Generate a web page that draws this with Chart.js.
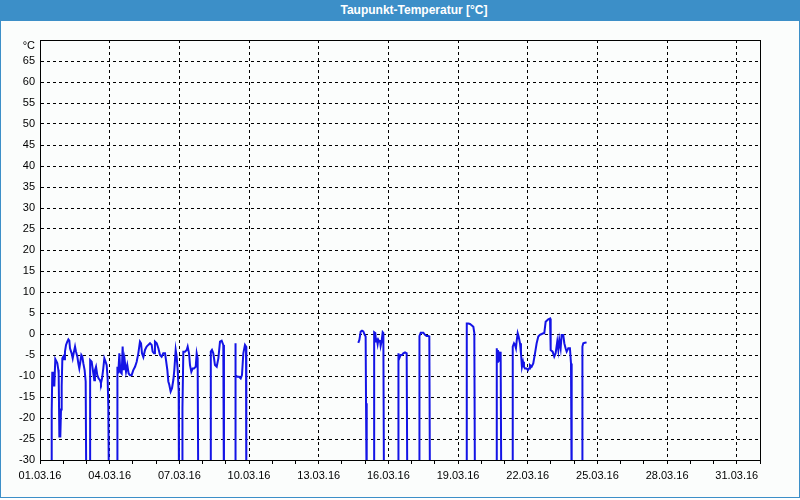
<!DOCTYPE html>
<html>
<head>
<meta charset="utf-8">
<script src="https://cdn.jsdelivr.net/npm/chart.js@4.4.1/dist/chart.umd.min.js"></script>
<style>
  html, body { margin: 0; padding: 0; background: #ffffff; }
  #frame { position: absolute; left: 0; top: 0; width: 798px; height: 497px; border: 1px solid #3c8fc8; border-top: none; background: #fbfdfc; }
  #c { position: absolute; left: 0; top: 0; }
  #title { position: absolute; left: 0; top: 0; width: 800px; height: 21px; background: #3c8fc8; color: #ffffff;
           font: bold 12px "Liberation Sans", Arial, sans-serif; line-height: 21px; text-align: center;
           padding-left: 28px; box-sizing: border-box; }
</style>
</head>
<body>
<div id="frame"></div>
<canvas id="c" width="800" height="500"></canvas>
<div id="title">Taupunkt-Temperatur [°C]</div>
<script>
// Hours since 01.03.16 00:00 (null value = no data)
const hours = [
  12.0, 12.1, 12.7, 13.4, 14.1, 14.8, 15.8, 16.9, 17.9, 18.9, 19.3, 20.0, 21.0, 21.7, 22.4, 23.1, 24.1, 24.8, 25.8, 26.9, 28.2, 29.3, 30.3, 31.0, 32.7, 33.8, 35.1, 36.2, 37.2, 38.6, 39.6, 40.6, 41.7, 42.7, 43.7, 44.8, 46.1, 47.2, 47.9,
  50,
  51.7, 51.8, 53.4, 55.1, 56.1, 56.8, 57.9, 59.2, 60.6, 62.0, 63.0, 64.1, 65.4, 66.5, 67.8, 68.9, 69.9, 70.6, 71.3,
  75,
  79.9, 80.0, 80.9, 82.0, 83.0, 84.4, 85.4, 86.4, 87.5, 88.9, 90.2, 91.6, 93.0, 94.7, 96.4, 98.2, 99.9, 101.6, 103.3, 104.4, 105.4, 106.8, 108.5, 110.2, 111.9, 113.7, 115.4, 116.4, 117.8, 118.8, 120.6, 122.3, 124.0, 125.7, 127.4, 129.2, 130.2, 131.6, 132.6, 133.6, 135.0, 136.4, 137.8, 138.8, 140.2, 141.2, 142.3, 143.3, 143.6,
  145,
  147.1, 147.2, 148.1, 149.8, 151.6, 152.6, 154.0, 155.0, 156.4, 157.8, 159.1, 160.9, 161.9, 162.9, 163.6,
  170,
  176.4, 176.5, 177.7, 179.1, 180.8, 182.6, 184.3, 186.0, 187.7, 189.4, 190.1,
  195,
  201.5, 201.6, 202.5, 203.9, 205.6, 207.4, 208.7, 210.1, 211.8, 212.9, 213.2,
  270,
  328.9, 330.0, 331.4, 332.7, 334.1, 335.5, 336.5, 336.9, 337.6,
  341,
  345.2, 345.3, 346.5, 347.2, 347.9, 348.9, 349.6, 350.5, 351.3, 352.0, 353.1, 354.1, 354.8, 355.5,
  362,
  370.3, 370.4, 371.3, 372.7, 374.1, 375.4, 377.2, 378.9, 379.6,
  385,
  392.0, 392.1, 393.4, 396.1, 397.8, 399.5, 401.3, 402.3, 403.0,
  420,
  440.9, 441.0, 442.6, 444.3, 446.0, 447.8, 448.8, 449.5,
  460,
  471.9, 472.0, 472.6, 473.2, 473.9, 474.6, 475.3, 476.0, 476.7,
  482,
  488.4, 488.5, 489.8, 490.8, 491.8, 492.5, 493.6, 494.6, 496.0, 497.0, 498.0, 499.1, 500.1, 501.1, 502.9, 504.2, 505.3, 506.3, 508.0, 509.7, 511.5, 513.2, 514.9, 516.6, 518.4, 520.1, 521.1, 522.5, 525.2, 527.0, 527.7, 529.7, 531.4, 532.8, 534.5, 535.6, 536.6, 538.0, 539.0, 540.7, 541.8, 543.1, 544.2, 545.9, 547.6, 548.7, 549.4,
  555,
  560.4, 560.5, 561.4, 563.1, 564.8
];
// Dew point temperature in °C
const dewpoint = [
  -40, -18.5, -9, -12.5, -9, -12.5, -6, -6.5, -7, -8.5, -9.5, -24.4, -24.4, -18, -12.5, -5.8, -5.4, -6, -4.2, -2.6, -1.8, -1.3, -1.6, -3.4, -4.6, -5.8, -4.2, -3, -4.2, -5.4, -7, -8.2, -6.6, -5, -5.4, -7, -8.6, -11.3, -40,
  null,
  -40, -6.2, -6.6, -9.4, -11, -8.6, -7.8, -9.8, -10.6, -11, -11.7, -10.6, -8.2, -5.8, -6.6, -7.4, -10.6, -17.3, -40,
  null,
  -40, -7.8, -9.4, -4.6, -9, -9.4, -3, -8.6, -6.2, -9, -7.4, -9.4, -9.8, -9.8, -8.6, -7.8, -6.6, -4.6, -1.8, -2.2, -4.6, -5.5, -3.8, -3, -2.6, -2.2, -2.6, -4.2, -4.6, -1.8, -2.2, -3.4, -5, -5.4, -4.6, -4.6, -6.2, -8.6, -11.3, -12.1, -13.7, -12.9, -10.9, -8.6, -3.8, -5.4, -8.6, -13.7, -40,
  null,
  -40, -17.7, -4.2, -4.2, -3.8, -3, -4.6, -7.4, -9, -8.2, -8.2, -7.8, -4.6, -5.8, -40,
  null,
  -40, -4.2, -3.8, -4.6, -7.4, -7.8, -5.8, -1.8, -1.6, -2.6, -40,
  null,
  -40, -2.2, -9.8, -10.2, -10.2, -10.6, -9.8, -4.6, -2.6, -3, -40,
  null,
  -2.1, -1.4, 0.6, 0.8, 0.6, -0.2, -0.6, -16.5, -40,
  null,
  -40, 0.4, 0.2, -1.8, -1.0, -2.4, -1.4, -1.8, -1.4, -2.8, -1.6, 0.4, 0.2, -40,
  null,
  -40, -4.6, -5.8, -5.0, -5.0, -4.6, -4.4, -4.6, -40,
  null,
  -40, -0.5, 0.3, 0.3, -0.2, -0.5, -0.5, -0.6, -40,
  null,
  -40, 2.5, 2.5, 2.4, 2.1, 1.7, 0.2, -40,
  null,
  -40, -3.4, -6.6, -3.8, -6.6, -4.2, -6.6, -4.2, -40,
  null,
  -40, -3.0, -2.2, -2.6, -3.4, -1.8, 0.2, -0.6, -2.2, -4.6, -7.8, -6.6, -7.8, -8.2, -8.2, -8.6, -8.2, -7.4, -7.8, -7.0, -4.6, -2.2, -0.6, -0.2, 0, 0.2, 0.2, 2.9, 3.5, 3.7, -3.8, -4.2, -5.4, -4.6, -1.8, -3.8, -1.4, -3.4, -0.24, -0.24, -2.2, -3.4, -4.2, -3.4, -3.4, -7.0, -40,
  null,
  -40, -3.0, -2.2, -2.1, -2.0
];
const xTickLabels = ['01.03.16', '04.03.16', '07.03.16', '10.03.16', '13.03.16', '16.03.16', '19.03.16', '22.03.16', '25.03.16', '28.03.16', '31.03.16'];
const yUnitLabel = '°C';

const points = hours.map((h, i) => ({ x: h, y: dewpoint[i] }));
const FONT = { family: 'Liberation Sans', size: 11 };

const framePlugin = {
  id: 'framePlugin',
  afterDraw(chart) {
    const { ctx, chartArea: a } = chart;
    ctx.save();
    ctx.strokeStyle = '#000000';
    ctx.lineWidth = 1;
    ctx.setLineDash([]);
    ctx.strokeRect(a.left + 0.5, a.top + 0.5, a.right - a.left, a.bottom - a.top);
    ctx.fillStyle = '#000000';
    ctx.font = '11px "Liberation Sans"';
    ctx.textAlign = 'right';
    ctx.textBaseline = 'middle';
    ctx.fillText(yUnitLabel, a.left - 5, a.top + 6);
    ctx.restore();
  }
};

new Chart(document.getElementById('c'), {
  type: 'line',
  data: {
    datasets: [{
      data: points,
      borderColor: '#1414e6',
      borderWidth: 2,
      pointRadius: 0,
      tension: 0,
      spanGaps: false,
      fill: false,
      clip: { left: 0, top: 0, right: 0, bottom: 0 }
    }]
  },
  options: {
    responsive: false,
    animation: false,
    devicePixelRatio: 1,
    layout: { padding: { left: 0, top: 40, right: 40, bottom: 0 } },
    plugins: { legend: { display: false }, tooltip: { enabled: false }, title: { display: false } },
    scales: {
      x: {
        type: 'linear',
        min: 0,
        max: 744,
        afterFit: s => { s.height = 40; },
        ticks: {
          stepSize: 24,
          autoSkip: false,
          maxRotation: 0,
          minRotation: 0,
          padding: 5,
          color: '#000000',
          font: FONT,
          callback: v => (v % 72 === 0 && v / 72 < xTickLabels.length) ? xTickLabels[v / 72] : ''
        },
        grid: {
          color: ctx => (ctx.tick && ctx.tick.value % 72 === 0 && ctx.tick.value > 0) ? '#000000' : 'rgba(0,0,0,0)',
          lineWidth: 1,
          drawTicks: true,
          tickLength: 4,
          tickColor: '#000000',
          tickWidth: 1,
          tickBorderDash: []
        },
        border: { display: true, color: '#000000', width: 1, dash: [3, 3] }
      },
      y: {
        min: -30,
        max: 70,
        afterFit: s => { s.width = 40; },
        ticks: {
          stepSize: 5,
          padding: 5,
          color: '#000000',
          font: FONT,
          callback: v => (v >= 70 ? '' : String(v))
        },
        grid: {
          color: ctx => (ctx.tick && ctx.tick.value > -30) ? '#000000' : 'rgba(0,0,0,0)',
          lineWidth: 1,
          drawTicks: false
        },
        border: { display: true, color: '#000000', width: 1, dash: [3, 3] }
      }
    }
  },
  plugins: [framePlugin]
});
</script>
</body>
</html>
